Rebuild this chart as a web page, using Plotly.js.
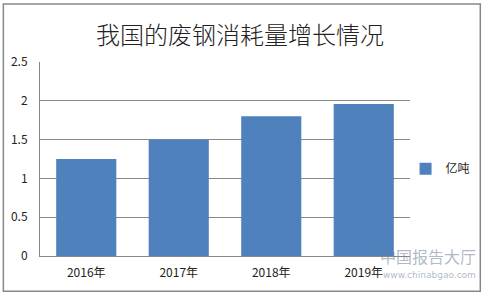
<!DOCTYPE html>
<html>
<head>
<meta charset="utf-8">
<script src="https://cdn.plot.ly/plotly-3.0.1.min.js"></script>
<style>html,body{margin:0;padding:0;background:#fff;}#chart{width:484px;height:293px;}</style>
</head>
<body>
<div id="chart"></div>
<script>
const categories = ["2016年", "2017年", "2018年", "2019年"];
const values = [1.25, 1.5, 1.8, 1.96];
const seriesName = "亿吨";
const yTickVals = [0, 0.5, 1, 1.5, 2, 2.5];
const yTickText = ["0", "0.5", "1", "1.5", "2", "2.5"];
const chartTitle = "我国的废钢消耗量增长情况";

const FONT = '"Noto Sans CJK SC", "Noto Sans", sans-serif';

const trace = {
  type: "bar",
  x: categories,
  y: values,
  name: seriesName,
  marker: {color: "#4f81bd"},
  showlegend: true,
  hoverinfo: "none"
};

const layout = {
  width: 484,
  height: 293,
  margin: {l: 40, r: 74, t: 62, b: 37, autoexpand: false},
  paper_bgcolor: "#fff",
  plot_bgcolor: "#fff",
  bargap: 0.35,
  showlegend: true,
  font: {family: FONT, color: "#222", size: 12},
  title: {
    text: chartTitle,
    font: {family: FONT, size: 24, color: "#222", weight: 300},
    x: 0.496, xanchor: "center",
    y: 0.88, yanchor: "middle"
  },
  xaxis: {
    type: "category",
    showgrid: false,
    showline: true,
    linecolor: "#888",
    linewidth: 1,
    ticks: "",
    ticklabelstandoff: 6,
    tickfont: {family: FONT, size: 12, color: "#222"},
    zeroline: false
  },
  yaxis: {
    range: [0, 2.5],
    tickvals: yTickVals,
    ticktext: yTickText,
    showgrid: true,
    gridcolor: "#888",
    gridwidth: 1,
    showline: true,
    linecolor: "#888",
    linewidth: 1,
    ticks: "",
    ticklabelstandoff: 9,
    zeroline: false,
    tickfont: {family: FONT, size: 12, color: "#222"}
  },
  legend: {
    x: 0.988, xanchor: "left",
    y: 0.45, yanchor: "middle",
    font: {family: FONT, size: 12, color: "#222"},
    bgcolor: "rgba(0,0,0,0)"
  },
  shapes: [{
    type: "rect", xref: "paper", yref: "paper",
    x0: -0.099, x1: 1.19, y0: -0.182, y1: 1.2995,
    line: {color: "#888", width: 1.5},
    fillcolor: "rgba(0,0,0,0)", layer: "below"
  }],
  annotations: [
    {text: "中国报告大厅", xref: "paper", yref: "paper", x: 1.185, y: 0.0, xanchor: "right", yanchor: "middle",
     showarrow: false, font: {family: FONT, size: 16, color: "rgba(110,125,150,0.55)"}},
    {text: "www.chinabgao.com", xref: "paper", yref: "paper", x: 1.185, y: -0.1, xanchor: "right", yanchor: "middle",
     showarrow: false, font: {family: "DejaVu Sans, sans-serif", size: 9, color: "rgba(110,125,150,0.55)"}}
  ]
};

Plotly.newPlot("chart", [trace], layout, {displayModeBar: false, staticPlot: true});
</script>
</body>
</html>
